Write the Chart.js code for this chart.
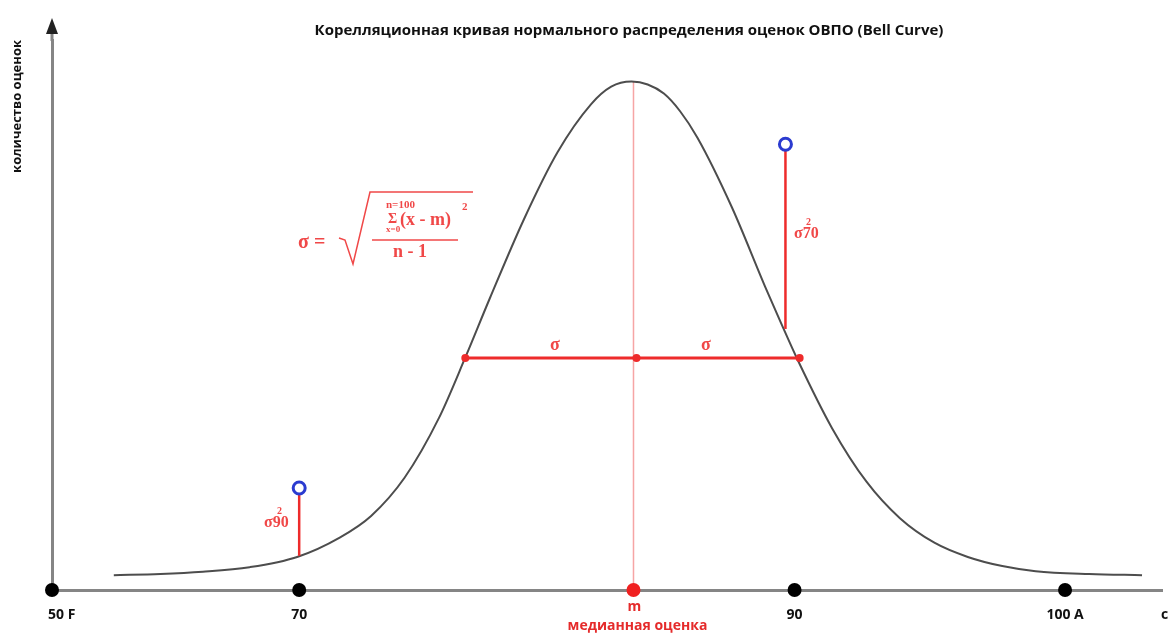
<!DOCTYPE html>
<html>
<head>
<meta charset="utf-8">
<script src="https://cdn.jsdelivr.net/npm/chart.js@4.4.1/dist/chart.umd.min.js"></script>
<style>
  html, body { margin: 0; padding: 0; background: #fff; }
  #wrap { width: 1171px; height: 633px; }
</style>
</head>
<body>
<div id="wrap"><canvas id="bellChart"></canvas></div>
<script>
// x = position along the drawn grade axis (50 F = 0, 100 A = 100), y = count
const curveX = [6.1, 10.7, 14.9, 19.5, 24.2, 28.4, 31.5, 34.8, 38.2, 40.8, 43.2, 46.6, 49.9, 53.2, 55.2, 57.2,
                58.8, 60.4, 62.0, 63.7, 67.1, 70.4, 72.0, 73.6, 77.0, 80.4, 83.7, 87.1, 90.4, 93.8, 97.1, 102.4, 107.6];
const curveY = [2.6, 2.8, 3.2, 4.0, 5.8, 9.2, 13.0, 19.7, 30.2, 40.8, 51.1, 65.1, 76.8, 85.2, 88.3, 89.2,
                88.7, 87.1, 84.0, 79.4, 67.2, 53.2, 46.7, 40.4, 28.4, 19.0, 12.6, 8.3, 5.8, 4.2, 3.3, 2.8, 2.6];

const tickPos = [0, 24.4, 73.3, 100];
const tickLabels = ['50 F', '70', '90', '100 A'];

const medianX = 57.4;
const peakY = 89.3;

const sigmaX = [40.8, 57.7, 73.8];
const sigmaY = 40.7;

// deviation stems for 70 and 90
const stemX = [24.4, 72.4];
const stemBottom = [6.0, 45.8];
const stemTop = [16.8, 77.2];
const ringY = [17.9, 78.2];

const RED = '#ee2b2b';
const LABEL_RED = '#f04848';

const pts = (xs, ys) => xs.map((x, i) => ({ x: x, y: Array.isArray(ys) ? ys[i] : ys }));

const textPlugin = {
  id: 'texts',
  afterDraw(chart) {
    const ctx = chart.ctx;
    const xs = chart.scales.x;
    const ys = chart.scales.y;
    ctx.save();

    // title
    ctx.fillStyle = '#111';
    ctx.font = 'bold 15px "Open Sans"';
    ctx.textAlign = 'center';
    ctx.textBaseline = 'middle';
    ctx.fillText('Корелляционная кривая нормального распределения оценок ОВПО (Bell Curve)', 629, 31);

    // y axis title
    ctx.save();
    ctx.translate(17, chart.chartArea.top);
    ctx.rotate(-Math.PI / 2);
    ctx.textAlign = 'right';
    ctx.font = 'bold 13px "Open Sans"';
    ctx.fillText('количество оценок', 0, 0);
    ctx.restore();

    // first tick label sits to the right of the origin
    ctx.font = 'bold 14px "Open Sans"';
    ctx.textAlign = 'left';
    ctx.fillText(tickLabels[0], xs.getPixelForValue(tickPos[0]) - 4, 615);

    // arrow on y axis
    const ax = xs.left;
    ctx.strokeStyle = '#858585';
    ctx.lineWidth = 3;
    ctx.beginPath();
    ctx.moveTo(ax, chart.chartArea.top + 1);
    ctx.lineTo(ax, 30);
    ctx.stroke();
    ctx.fillStyle = '#222';
    ctx.beginPath();
    ctx.moveTo(ax, 18);
    ctx.lineTo(ax - 6, 34);
    ctx.lineTo(ax + 6, 34);
    ctx.closePath();
    ctx.fill();

    // median label
    const mx = xs.getPixelForValue(medianX);
    ctx.fillStyle = '#e52b2b';
    ctx.font = 'bold 14px "Open Sans"';
    ctx.textAlign = 'center';
    ctx.fillText('m', mx + 1, 607);
    ctx.fillText('медианная оценка', mx + 4, 626);

    // cut label at right edge
    ctx.fillStyle = '#111';
    ctx.textAlign = 'left';
    ctx.fillText('с', 1161, 615);

    // sigma labels
    ctx.fillStyle = LABEL_RED;
    ctx.font = 'bold 18px "Liberation Serif"';
    ctx.textAlign = 'center';
    const sy = ys.getPixelForValue(sigmaY) - 13;
    ctx.fillText('σ', 555, sy);
    ctx.fillText('σ', 706, sy);

    // sigma squared labels
    ctx.textAlign = 'left';
    ctx.textBaseline = 'alphabetic';
    ctx.font = 'bold 16px "Liberation Serif"';
    ctx.fillText('σ70', 794, 238);
    ctx.fillText('σ90', 264, 527);
    ctx.font = 'bold 10px "Liberation Serif"';
    ctx.fillText('2', 806, 225);
    ctx.fillText('2', 277, 514);

    // formula
    ctx.font = 'bold 20px "Liberation Serif"';
    ctx.fillText('σ =', 298, 248);
    ctx.strokeStyle = LABEL_RED;
    ctx.lineWidth = 1.5;
    ctx.beginPath();
    ctx.moveTo(339, 238);
    ctx.lineTo(345, 240);
    ctx.lineTo(353, 264);
    ctx.lineTo(370, 192);
    ctx.lineTo(473, 192);
    ctx.stroke();
    ctx.beginPath();
    ctx.moveTo(372, 240);
    ctx.lineTo(458, 240);
    ctx.stroke();
    ctx.font = 'bold 11px "Liberation Serif"';
    ctx.fillText('n=100', 386, 208);
    ctx.fillText('2', 462, 210);
    ctx.font = 'bold 9px "Liberation Serif"';
    ctx.fillText('x=0', 386, 232);
    ctx.font = 'bold 14px "Liberation Serif"';
    ctx.fillText('Σ', 388, 223);
    ctx.font = 'bold 18px "Liberation Serif"';
    ctx.fillText('(x - m)', 400, 225);
    ctx.fillText('n - 1', 393, 257);

    ctx.restore();
  }
};

const datasets = [
  {
    data: pts(curveX, curveY),
    borderColor: '#4d4d4d',
    borderWidth: 2,
    pointRadius: 0,
    cubicInterpolationMode: 'monotone',
    order: 6
  },
  {
    data: pts([medianX, medianX], [0, peakY]),
    borderColor: '#f6a5a5',
    borderWidth: 1.5,
    pointRadius: 0,
    order: 7
  },
  {
    data: pts(sigmaX, sigmaY),
    borderColor: RED,
    borderWidth: 3,
    pointRadius: 4,
    pointBackgroundColor: RED,
    pointBorderWidth: 0,
    order: 3
  }
];

stemX.forEach((x, i) => {
  datasets.push({
    data: pts([x, x], [stemBottom[i], stemTop[i]]),
    borderColor: RED,
    borderWidth: 2.5,
    pointRadius: 0,
    order: 4
  });
});

datasets.push({
  data: pts(stemX, ringY),
  showLine: false,
  pointRadius: 6,
  pointBorderWidth: 3,
  pointBorderColor: '#2b3bd0',
  pointBackgroundColor: '#fff',
  order: 1
});

datasets.push({
  data: pts(tickPos, 0),
  showLine: false,
  pointRadius: 7,
  pointBorderWidth: 0,
  pointBackgroundColor: '#000',
  clip: false,
  order: 0
});

datasets.push({
  data: pts([medianX], 0),
  showLine: false,
  pointRadius: 7,
  pointBorderWidth: 0,
  pointBackgroundColor: '#f02020',
  clip: false,
  order: 0
});

new Chart(document.getElementById('bellChart'), {
  type: 'line',
  data: { datasets: datasets },
  options: {
    responsive: true,
    maintainAspectRatio: false,
    animation: false,
    layout: { padding: { top: 40, left: 0, right: 0, bottom: 0 } },
    plugins: {
      legend: { display: false },
      tooltip: { enabled: false },
      title: { display: false }
    },
    scales: {
      x: {
        type: 'linear',
        min: 0,
        max: 109.57,
        grid: { display: false, drawTicks: false },
        border: { color: '#858585', width: 3 },
        afterBuildTicks: s => { s.ticks = tickPos.map(v => ({ value: v })); },
        afterFit: s => { s.height = 43; },
        ticks: {
          autoSkip: false,
          maxRotation: 0,
          padding: 17,
          color: '#111',
          font: { family: '"Open Sans"', size: 14, weight: 'bold' },
          // the origin label is drawn by the text plugin
          callback: (v, i) => (i === 0 ? '' : tickLabels[i])
        }
      },
      y: {
        min: 0,
        max: 96.5,
        grid: { display: false, drawTicks: false },
        border: { color: '#858585', width: 3 },
        ticks: { display: false },
        afterFit: s => { s.width = 52; }
      }
    }
  },
  plugins: [textPlugin]
});
</script>
</body>
</html>
